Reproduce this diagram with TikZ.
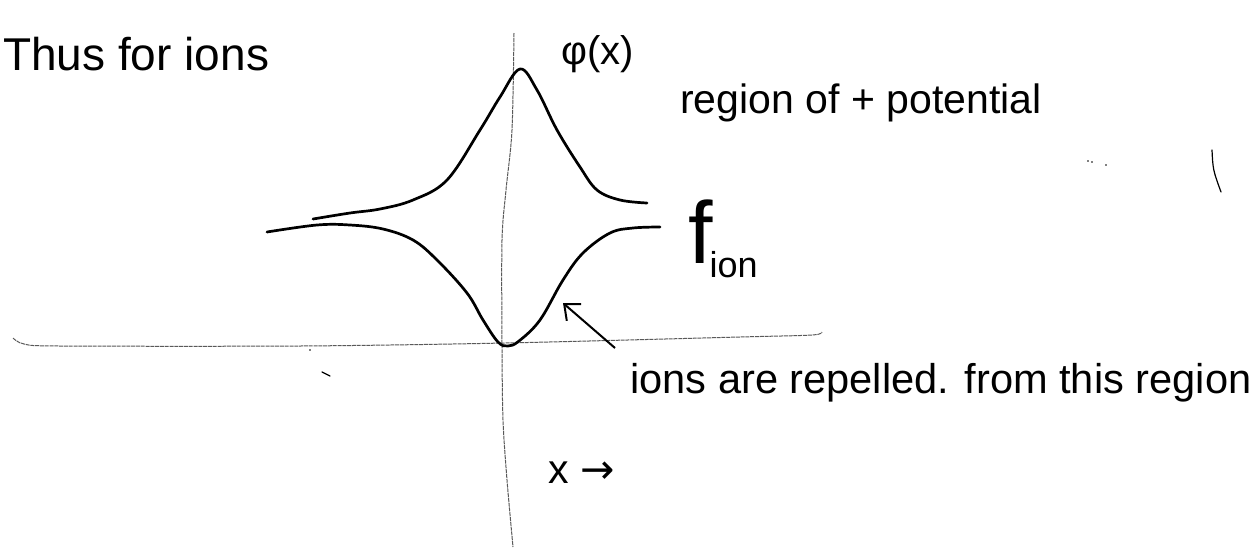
\documentclass[tikz,border=0pt]{standalone}
\usepackage{fontspec}
\setmainfont{Liberation Sans}
\newfontfamily\arrowfont{DejaVu Sans}
\usetikzlibrary{arrows.meta}
\begin{document}
\begin{tikzpicture}[x=1pt,y=-1pt,
  curve/.style={line width=2.7pt,line cap=round,line join=round},
  axisline/.style={line width=1pt,black!65,dash pattern=on 4pt off 0.8pt},
  hand/.style={inner sep=0pt,anchor=base west,font=\fontsize{41}{41}\selectfont},
  stray/.style={line width=1.2pt,line cap=round}]
\useasboundingbox[fill=white] (0,0) rectangle (1259,550);
% axes
\draw[axisline] plot[smooth] coordinates {(514,33) (512,130) (506,190) (502,240) (502,345) (503,420) (507,480) (513,547)};
\draw[axisline] plot[smooth] coordinates {(13,338) (24,344) (60,346) (300,346) (505,343) (740,337) (812,335) (822,332)};
% phi(x) curve
\draw[curve] plot[smooth,tension=0.6] coordinates {(313,219) (350,213) (380,209) (413,200) (447,180) (480,130) (500,97) (520,69) (537,90) (557,130) (580,167) (597,190) (620,200) (647,203)};
% f_ion curve
\draw[curve] plot[smooth,tension=0.6] coordinates {(267,232) (317,225) (350,225) (383,229) (413,240) (437,260) (467,293) (483,320) (498,342) (508,346) (519,341) (540,320) (563,280) (583,253) (610,233) (633,228) (660,227)};
% texts
\node[hand,font=\fontsize{46}{46}\selectfont] (thus) at (3,70) {Thus for ions};
\node[hand,font=\fontsize{40}{40}\selectfont] (phi) at (561,64) {φ(x)};
\node[hand] (reg) at (680,113) {region of + potential};
\node[hand] (fion) at (688,263) {{\fontsize{88}{88}\selectfont f}\kern-3pt\raisebox{-14pt}{\fontsize{36}{36}\selectfont ion}};
\node[hand,font=\fontsize{41.6}{41.6}\selectfont] (rep) at (630,393) {ions are repelled. from this region};
\node[hand] (xar) at (548,483) {x {\arrowfont →}};
% arrow
\coordinate (atail) at (615,348);
\coordinate (ahead) at (563,303);
\draw[line width=2pt,-{Straight Barb[length=13pt,width=22pt,line width=2pt]}] (atail) -- (ahead);
% stray marks
\coordinate (s1a) at (1212,150);
\coordinate (s1b) at (1221,192);
\draw[stray] (s1a) .. controls (1213,170) .. (s1b);
\coordinate (s2a) at (322,372);
\coordinate (s2b) at (330,376);
\draw[stray] (s2a) -- (s2b);
\fill (1088,161) circle (0.8pt) (1092,162) circle (0.8pt) (1106,165) circle (0.8pt) (310,350) circle (0.8pt);
\end{tikzpicture}
\end{document}
